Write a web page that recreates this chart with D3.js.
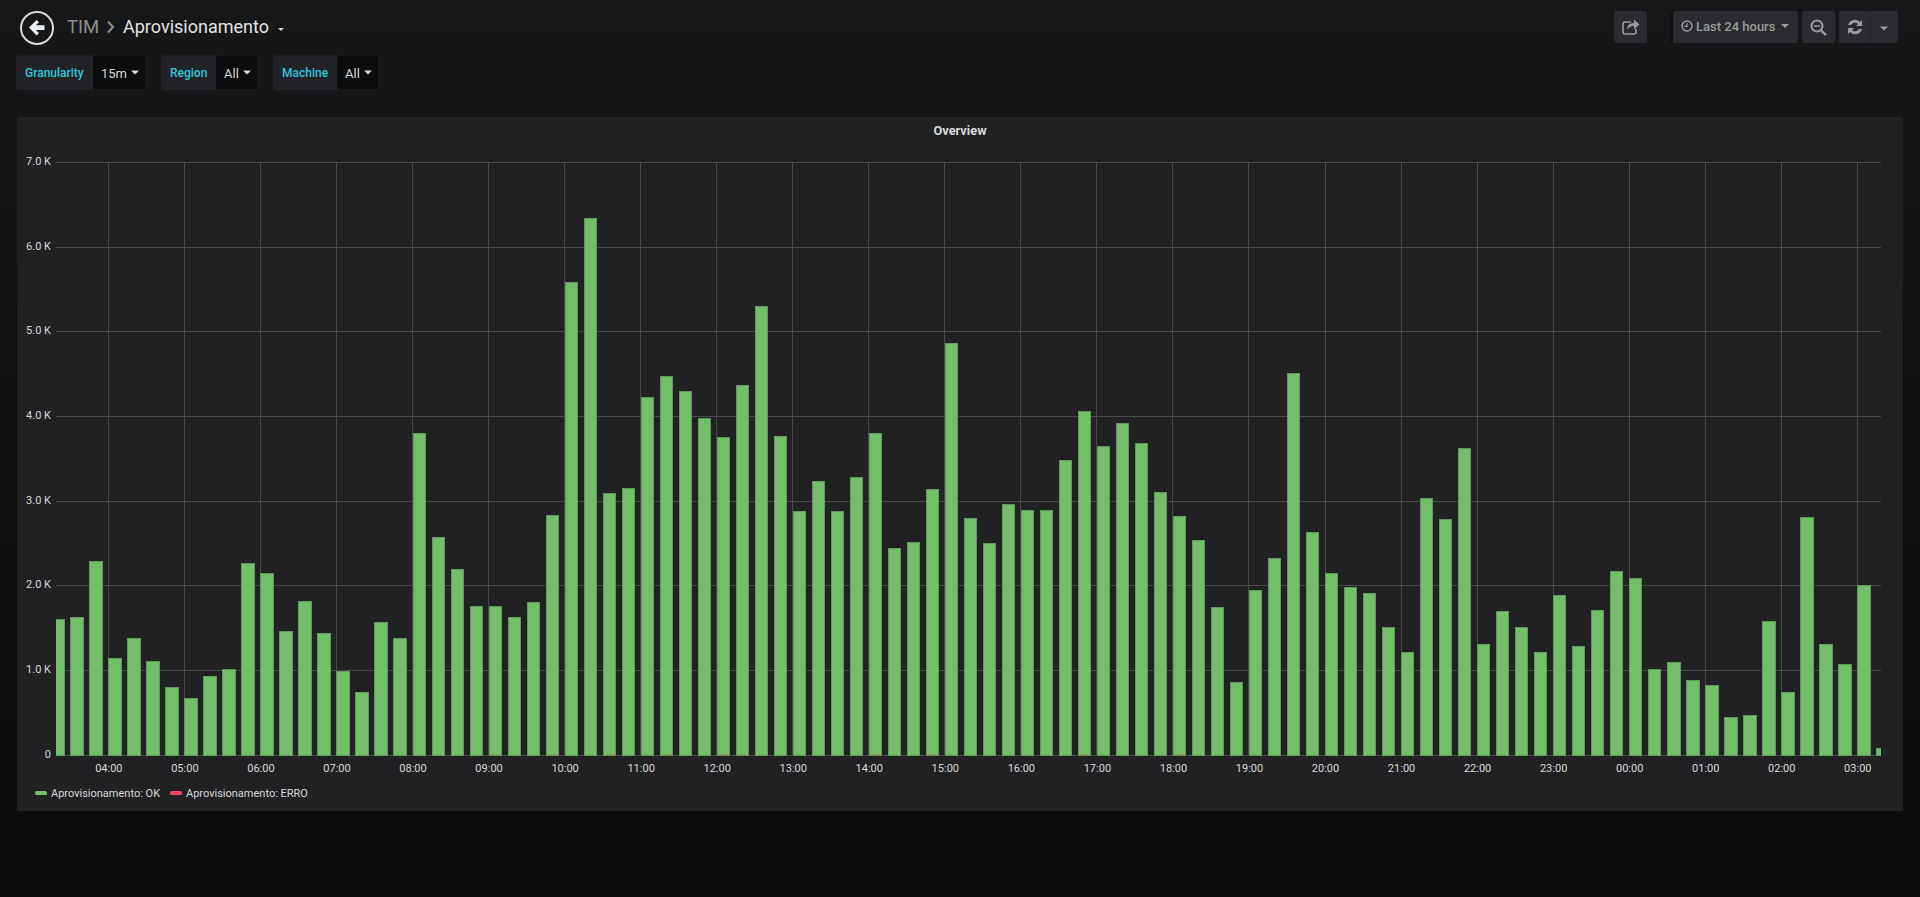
<!DOCTYPE html>
<html><head><meta charset="utf-8"><title>Aprovisionamento</title>
<script src="https://cdn.jsdelivr.net/npm/d3@7"></script>
<style>
html,body{margin:0;padding:0;background:#0b0c0e;overflow:hidden}
svg{display:block}
text{font-family:Roboto,sans-serif}
</style></head><body><svg id="c" width="1920" height="897"></svg>
<script>
const seriesOkName = "Aprovisionamento: OK";
const seriesErrName = "Aprovisionamento: ERRO";
const okValues = [1604,1629,2298,1153,1389,1111,804,678,939,1019,2268,2151,1465,1827,1444,993,745,1578,1389,3809,2580,2205,1768,1768,1633,1810,2837,5585,6343,3102,3152,4234,4482,4301,3981,3758,4369,5299,3771,2879,3241,2887,3287,3801,2449,2521,3148,4865,2807,2508,2963,2891,2900,3489,4070,3649,3923,3683,3110,2828,2546,1747,871,1949,2327,4516,2639,2151,1982,1911,1511,1225,3043,2786,3632,1313,1709,1519,1225,1890,1288,1721,2172,2088,1014,1098,888,829,450,476,1582,745,2811,1313,1073,2016,88];
const errValues = [0,0,0,0,0,0,0,0,0,0,0,0,0,0,0,0,0,0,0,0,0,0,0,8,0,0,8,0,0,8,0,0,8,0,0,8,8,0,0,0,0,0,0,8,0,0,8,0,0,0,0,0,0,0,8,0,0,0,0,8,0,0,0,0,0,0,0,0,0,0,0,0,0,0,0,0,0,0,0,0,0,0,0,0,0,0,0,0,0,0,0,0,0,0,0,0,0];
const yTicks = [0,1000,2000,3000,4000,5000,6000,7000];
const colors = {ok:"#73bf69", okEdge:"#5f9a5c", err:"#f2495c", grid:"#4a4a4d", text:"#d8d9da"};

const svg = d3.select("#c");
const defs = svg.append("defs");
const bg = defs.append("linearGradient").attr("id","bg").attr("x1",0).attr("x2",0).attr("y1",0).attr("y2",1);
bg.append("stop").attr("offset","0").attr("stop-color","#161719");
bg.append("stop").attr("offset",".88").attr("stop-color","#0b0c0e");
svg.append("rect").attr("width",1920).attr("height",897).attr("fill","url(#bg)");

// panel
svg.append("rect").attr("x",17).attr("y",117).attr("width",1886).attr("height",694).attr("rx",2).attr("fill","#212124");
svg.append("text").attr("x",960).attr("y",135).attr("text-anchor","middle").attr("font-size",12.8).attr("font-weight",700).attr("fill",colors.text).text("Overview");

// scales
const MIN = 60000, Q = 15*MIN;
const firstBar = Date.UTC(2018,0,1,3,15);
const start = Date.UTC(2018,0,1,3,18,42), end = start + 24*60*MIN;
const x = d3.scaleUtc().domain([start,end]).range([56,1881]);
const y = d3.scaleLinear().domain([0,7000]).range([755.3,162.3]);

defs.append("clipPath").attr("id","plot").append("rect").attr("x",56).attr("y",150).attr("width",1825).attr("height",606);

// grid
const hours = x.ticks(d3.utcHour.every(1));
svg.append("g").attr("shape-rendering","crispEdges").selectAll("line").data(hours).join("line")
  .attr("x1",d=>x(d)).attr("x2",d=>x(d)).attr("y1",y(7000)).attr("y2",y(0)).attr("stroke",colors.grid);
svg.append("g").attr("shape-rendering","crispEdges").selectAll("line").data(yTicks).join("line")
  .attr("x1",56).attr("x2",1881).attr("y1",d=>y(d)).attr("y2",d=>y(d)).attr("stroke",colors.grid);

// bars
const barW = x(firstBar+Q*0.7)-x(firstBar);
svg.append("g").attr("clip-path","url(#plot)").attr("shape-rendering","crispEdges").selectAll("rect").data(okValues).join("rect")
  .attr("x",(d,i)=>x(firstBar+i*Q)+.5).attr("y",d=>y(d)+.5)
  .attr("width",barW-1).attr("height",d=>y(0)-y(d))
  .attr("fill",colors.ok).attr("stroke",colors.okEdge).attr("stroke-width",1);
svg.append("g").attr("clip-path","url(#plot)").selectAll("rect").data(errValues).join("rect")
  .attr("x",(d,i)=>x(firstBar+i*Q)+.5).attr("y",d=>y(d)-.2)
  .attr("width",barW-1).attr("height",d=>y(0)-y(d))
  .attr("fill",colors.err).attr("opacity",.55);

// axes
const axX = d3.axisBottom(x).tickValues(hours).tickSize(0).tickPadding(0).tickFormat(d3.utcFormat("%H:%M"));
const gx = svg.append("g").attr("transform","translate(0,769)").call(axX);
gx.select(".domain").remove();
gx.selectAll("text").attr("font-size",11).attr("fill",colors.text).attr("font-family","Roboto,sans-serif").attr("dy",0).attr("y",3);
const axY = d3.axisLeft(y).tickValues(yTicks).tickSize(0).tickPadding(0).tickFormat(d=>d?(d/1000).toFixed(1)+" K":"0");
const gy = svg.append("g").attr("transform","translate(51,1)").call(axY);
gy.select(".domain").remove();
gy.selectAll("text").attr("font-size",11).attr("fill",colors.text).attr("font-family","Roboto,sans-serif").attr("dy",".1em");

// legend
const legend = [[seriesOkName,colors.ok,35,51],[seriesErrName,colors.err,170,186]];
legend.forEach(([t,c,x0,xt])=>{
  svg.append("rect").attr("x",x0).attr("y",791).attr("width",12).attr("height",4).attr("rx",1.5).attr("fill",c);
  svg.append("text").attr("x",xt).attr("y",797).attr("font-size",11).attr("fill",colors.text).text(t);
});

// header
svg.append("circle").attr("cx",37).attr("cy",28).attr("r",16).attr("fill","none").attr("stroke","#d8d9da").attr("stroke-width",2);
svg.append("path").attr("d","M29 27.5 L36.5 20 L39 22.5 L35.8 25.3 L44.5 25.3 L44.5 30 L35.8 30 L39 33 L36.5 35.5 Z").attr("fill","#e9edf2");
svg.append("text").attr("x",67).attr("y",33).attr("font-size",18.5).attr("fill","#8e8e8e").text("TIM");
svg.append("path").attr("d","M108 21.5 L113 27 L108 32.5").attr("fill","none").attr("stroke","#8e8e8e").attr("stroke-width",2);
svg.append("text").attr("x",123).attr("y",33).attr("font-size",18).attr("fill","#e3e3e3").text("Aprovisionamento");
svg.append("path").attr("d","M278 28 h6 l-3 3 z").attr("fill","#d8d9da");

// variables
const vars = [["Granularity","15m",16,93,146,25,101],["Region","All",161,216,258,170,224],["Machine","All",273,337,379,282,345]];
vars.forEach(([lab,val,x0,xs,x1,xl,xv])=>{
  svg.append("rect").attr("x",x0).attr("y",55).attr("width",x1-x0).attr("height",35).attr("rx",3).attr("fill","#212327").attr("stroke","#1c1d20");
  svg.append("rect").attr("x",xs).attr("y",55.5).attr("width",x1-xs-.5).attr("height",34).attr("rx",2).attr("fill","#0b0c0e");
  svg.append("text").attr("x",xl).attr("y",77).attr("font-size",12).attr("font-weight",500).attr("fill","#33c5dc").text(lab);
  svg.append("text").attr("x",xv).attr("y",78).attr("font-size",13).attr("fill","#d8d9da").text(val);
  svg.append("path").attr("d",`M${x1-15} 70.5 h8 l-4 4 z`).attr("fill","#d8d9da");
});

// toolbar
const btn = "#2a2b2e", ic = "#9a9b9d";
svg.append("rect").attr("x",1669).attr("y",11).attr("width",4).attr("height",32).attr("fill","#101113");
[[1614,33],[1673,125],[1802,33],[1839,59]].forEach(([bx,w])=>{
  svg.append("rect").attr("x",bx).attr("y",11).attr("width",w).attr("height",32).attr("rx",2).attr("fill",btn);
});
svg.append("rect").attr("x",1870).attr("y",11).attr("width",1).attr("height",32).attr("fill","#232427");
svg.append("path").attr("transform","translate(-4,0)").attr("d","M1635 22 h-6 a2 2 0 0 0 -2 2 v8 a2 2 0 0 0 2 2 h9 a2 2 0 0 0 2 -2 v-3").attr("fill","none").attr("stroke",ic).attr("stroke-width",1.6);
svg.append("path").attr("transform","translate(-4,0)").attr("d","M1631 30 q0 -7 7 -7 v-3.5 l5.5 5 l-5.5 5 v-3.5 q-5 0 -7 4 z").attr("fill",ic);
svg.append("circle").attr("cx",1687).attr("cy",26).attr("r",5).attr("fill","none").attr("stroke",ic).attr("stroke-width",1.5);
svg.append("path").attr("d","M1687 23 v3.3 h-2.5").attr("fill","none").attr("stroke",ic).attr("stroke-width",1.2);
svg.append("text").attr("x",1696).attr("y",31).attr("font-size",13).attr("font-weight",500).attr("fill",ic).text("Last 24 hours");
svg.append("path").attr("d","M1781 24 h8 l-4 4 z").attr("fill",ic);
svg.append("circle").attr("cx",1817).attr("cy",26).attr("r",5.5).attr("fill","none").attr("stroke",ic).attr("stroke-width",2);
svg.append("path").attr("d","M1821 30.5 L1826 35").attr("stroke",ic).attr("stroke-width",2.4);
svg.append("path").attr("d","M1814 26 h6").attr("stroke",ic).attr("stroke-width",1.5);
svg.append("path").attr("d","M1848 25 a7 7 0 0 1 12 -3 l2 -2 v6 h-6 l2 -2 a4.5 4.5 0 0 0 -7 1 z M1862 29 a7 7 0 0 1 -12 3 l-2 2 v-6 h6 l-2 2 a4.5 4.5 0 0 0 7 -1 z").attr("fill",ic);
svg.append("path").attr("d","M1880 26.5 h8 l-4 4 z").attr("fill",ic);
</script></body></html>
